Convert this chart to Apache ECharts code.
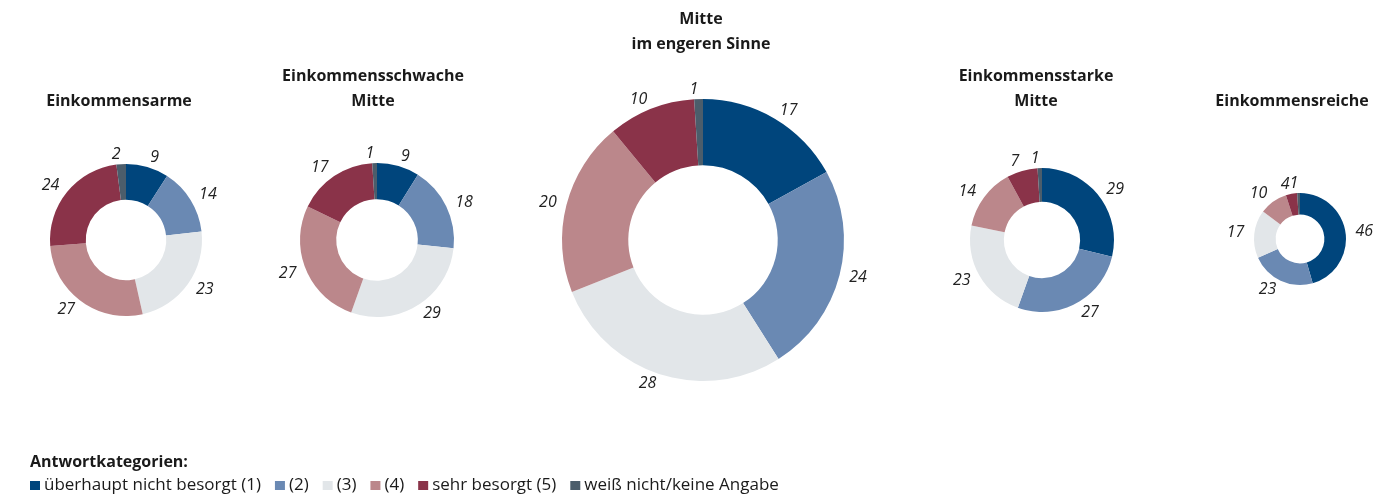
<!DOCTYPE html>
<html>
<head>
<meta charset="utf-8">
<script src="https://cdn.jsdelivr.net/npm/echarts@6/dist/echarts.min.js"></script>
<style>
  html, body { margin: 0; padding: 0; background: #fff; }
  #chart { width: 1398px; height: 494px; }
</style>
</head>
<body>
<div id="chart"></div>
<script>
// Answer categories (legend order = slice order, clockwise from 12 o'clock)
const categories = ['überhaupt nicht besorgt (1)', '(2)', '(3)', '(4)', 'sehr besorgt (5)', 'weiß nicht/keine Angabe'];
const categoryColors = ['#00457c', '#6a89b3', '#e2e6e9', '#bb878b', '#8a3349', '#4b5d6b'];

// Income groups
const groupNames = ['Einkommensarme', 'Einkommensschwache\nMitte', 'Mitte\nim engeren Sinne', 'Einkommensstarke\nMitte', 'Einkommensreiche'];

// Shares in percent per income group
const einkommensarme = [9, 14, 23, 27, 24, 2];
const einkommensschwacheMitte = [9, 18, 29, 27, 17, 1];
const mitteImEngerenSinne = [17, 24, 28, 20, 10, 1];
const einkommensstarkeMitte = [29, 27, 23, 14, 7, 1];
const einkommensreiche = [46, 23, 17, 10, 4, 1];

const groupValues = [einkommensarme, einkommensschwacheMitte, mitteImEngerenSinne, einkommensstarkeMitte, einkommensreiche];

// Donut placement: centre, outer radius and title anchor for each group (pixels)
const layout = [
  { cx: 126, cy: 240, r: 76, titleX: 119, titleTop: 89 },
  { cx: 377, cy: 240, r: 77, titleX: 373, titleTop: 64 },
  { cx: 703, cy: 240, r: 141, titleX: 701, titleTop: 7 },
  { cx: 1042, cy: 240, r: 72, titleX: 1036, titleTop: 64 },
  { cx: 1300, cy: 239, r: 46, titleX: 1292, titleTop: 89 }
];

const FONT = '"Open Sans", "Noto Sans", sans-serif';

const titles = groupNames.map((name, i) => ({
  text: name,
  left: layout[i].titleX,
  top: layout[i].titleTop,
  padding: 0,
  textAlign: 'center',
  textStyle: { fontFamily: FONT, fontSize: 16, fontWeight: 'bold', color: '#1a1a1a', lineHeight: 25 }
}));
titles.push({
  text: 'Antwortkategorien:',
  left: 30,
  top: 452,
  padding: 0,
  textStyle: { fontFamily: FONT, fontSize: 16, fontWeight: 'bold', color: '#1a1a1a', lineHeight: 20 }
});

const series = groupValues.map((vals, i) => ({
  type: 'pie',
  name: groupNames[i].replace('\n', ' '),
  center: [layout[i].cx, layout[i].cy],
  radius: [layout[i].r * 0.53, layout[i].r],
  startAngle: 90,
  clockwise: true,
  avoidLabelOverlap: false,
  minShowLabelAngle: 0,
  silent: true,
  label: {
    show: true,
    position: 'outside',
    formatter: '{c}',
    fontFamily: FONT,
    fontSize: 16,
    fontStyle: 'italic',
    color: '#222',
    distanceToLabelLine: 0
  },
  labelLayout: { hideOverlap: false, moveOverlap: null },
  labelLine: { show: false, length: 10, length2: 0 },
  itemStyle: { borderWidth: 0 },
  data: vals.map((v, k) => ({ name: categories[k], value: v, itemStyle: { color: categoryColors[k] } }))
}));

const chart = echarts.init(document.getElementById('chart'), null, { renderer: 'canvas' });
chart.setOption({
  animation: false,
  title: titles,
  legend: {
    data: categories,
    left: 30,
    top: 477,
    padding: 0,
    icon: 'rect',
    itemWidth: 10,
    itemHeight: 9,
    itemGap: 14,
    textStyle: { fontFamily: FONT, fontSize: 17, color: '#1a1a1a', padding: [0, 0, 0, -1] }
  },
  series: series
});
</script>
</body>
</html>
